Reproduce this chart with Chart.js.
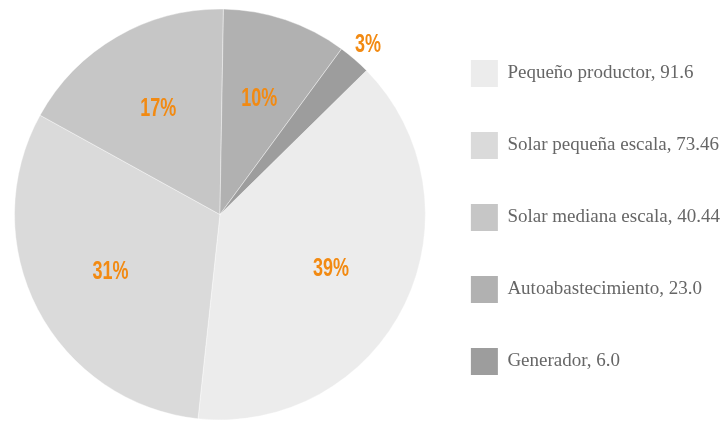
<!DOCTYPE html>
<html>
<head>
<meta charset="utf-8">
<script src="https://cdn.jsdelivr.net/npm/chart.js@4/dist/chart.umd.min.js"></script>
<style>
  html, body { margin: 0; padding: 0; background: #fff; }
  #wrap { width: 724px; height: 421px; position: relative; }
</style>
</head>
<body>
<div id="wrap"><canvas id="pie"></canvas></div>
<script>
const categories = ['Pequeño productor', 'Solar pequeña escala', 'Solar mediana escala', 'Autoabastecimiento', 'Generador'];
const values = [91.6, 73.46, 40.44, 23.0, 6.0];
const valueLabels = ['91.6', '73.46', '40.44', '23.0', '6.0'];
const percentLabels = ['39%', '31%', '17%', '10%', '3%'];
const sliceColors = ['#ececec', '#dadada', '#c6c6c6', '#b1b1b1', '#9d9d9d'];

// percentages drawn on (or just outside) each slice
const percentPlugin = {
  id: 'percentLabels',
  afterDatasetsDraw(chart) {
    const ctx = chart.ctx;
    const meta = chart.getDatasetMeta(0);
    const total = values.reduce((a, b) => a + b, 0);
    ctx.save();
    ctx.fillStyle = '#f28a12';
    ctx.font = "bold 25px 'Liberation Sans', Arial, sans-serif";
    ctx.textAlign = 'center';
    ctx.textBaseline = 'middle';
    meta.data.forEach((arc, i) => {
      const p = arc.getProps(['x', 'y', 'startAngle', 'endAngle', 'outerRadius'], true);
      const mid = (p.startAngle + p.endAngle) / 2;
      const r = values[i] / total < 0.05 ? p.outerRadius * 1.1 : p.outerRadius * 0.6;
      const x = p.x + Math.cos(mid) * r;
      const y = p.y + Math.sin(mid) * r;
      ctx.save();
      ctx.translate(x, y);
      ctx.scale(0.72, 1);
      ctx.fillText(percentLabels[i], 0, 1);
      ctx.restore();
    });
    ctx.restore();
  }
};

new Chart(document.getElementById('pie').getContext('2d'), {
  type: 'pie',
  data: {
    labels: categories,
    datasets: [{
      data: values,
      backgroundColor: sliceColors,
      borderColor: 'rgba(255, 255, 255, 0.4)',
      borderWidth: 1
    }]
  },
  options: {
    responsive: true,
    maintainAspectRatio: false,
    animation: false,
    rotation: 45.5,
    layout: { padding: { left: 14, right: -6, top: 8, bottom: 0 } },
    plugins: {
      tooltip: { enabled: false },
      legend: {
        position: 'right',
        // empty title only nudges the items down a little
        title: { display: true, text: '', font: { size: 5 }, padding: 0 },
        labels: {
          boxWidth: 27,
          boxHeight: 27,
          padding: 45,
          color: '#666',
          font: { family: "'Liberation Serif', 'DejaVu Serif', serif", size: 19 },
          generateLabels(chart) {
            return categories.map((c, i) => ({
              text: c + ', ' + valueLabels[i],
              fillStyle: sliceColors[i],
              strokeStyle: sliceColors[i],
              lineWidth: 0,
              fontColor: '#666',
              hidden: false,
              index: i
            }));
          }
        }
      }
    }
  },
  plugins: [percentPlugin]
});
</script>
</body>
</html>
